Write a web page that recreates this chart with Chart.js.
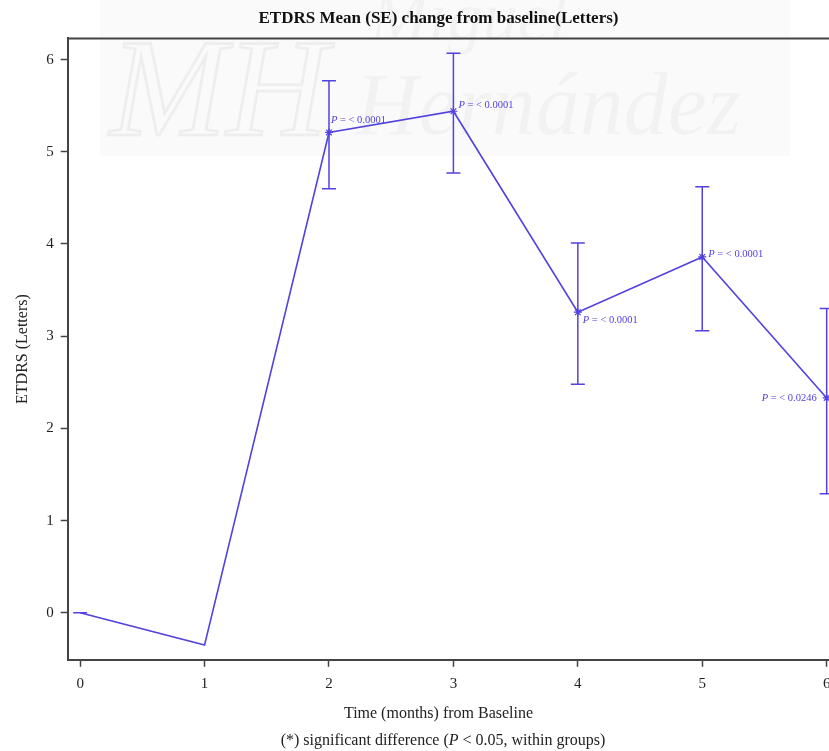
<!DOCTYPE html>
<html>
<head>
<meta charset="utf-8">
<script src="https://cdn.jsdelivr.net/npm/chart.js@4/dist/chart.umd.min.js"></script>
<style>
  html, body { margin: 0; padding: 0; background: #fff; overflow: hidden; }
  #wrap { width: 886px; height: 751px; }
</style>
</head>
<body>
<div id="wrap"><canvas id="etdrsChart" width="886" height="751"></canvas></div>
<script>
// Data
const months = [0, 1, 2, 3, 4, 5, 6];
const meanChange = [0, -0.35, 5.21, 5.44, 3.26, 3.86, 2.33];
const lowerSE = [0, null, 4.60, 4.77, 2.48, 3.06, 1.29];
const upperSE = [0, null, 5.77, 6.07, 4.01, 4.62, 3.30];
const pLabels = [null, null, '0.0001', '0.0001', '0.0001', '0.0001', '0.0246'];

const lineColor = 'rgb(82,66,224)';
const axisColor = '#444';
const serif = "'Liberation Serif', 'DejaVu Serif', serif";

// faint background watermark
const watermark = {
    id: 'watermark',
    beforeDraw(chart) {
        const ctx = chart.ctx;
        ctx.save();
        ctx.fillStyle = 'rgba(0,0,0,0.018)';
        ctx.fillRect(100, 0, 690, 156);
        ctx.fillStyle = 'rgba(0,0,0,0.035)';
        ctx.font = "italic 88px " + serif;
        ctx.textBaseline = 'alphabetic';
        ctx.fillText('Hernández', 355, 134);
        ctx.font = "italic 70px " + serif;
        ctx.fillText('Miguel', 370, 40);
        ctx.strokeStyle = 'rgba(0,0,0,0.05)';
        ctx.lineWidth = 3;
        ctx.font = "italic 140px " + serif;
        ctx.strokeText('MH', 110, 135);
        ctx.restore();
    }
};

// top frame line
const frame = {
    id: 'frame',
    afterDraw(chart) {
        const a = chart.chartArea;
        const ctx = chart.ctx;
        ctx.save();
        ctx.strokeStyle = axisColor;
        ctx.lineWidth = 2;
        ctx.beginPath();
        ctx.moveTo(a.left, a.top);
        ctx.lineTo(chart.width, a.top);
        ctx.stroke();
        ctx.restore();
    }
};

// SE error bars
const errorBars = {
    id: 'errorBars',
    afterDatasetsDraw(chart) {
        const x = chart.scales.x, y = chart.scales.y;
        const ctx = chart.ctx;
        ctx.save();
        ctx.strokeStyle = lineColor;
        ctx.lineWidth = 1.5;
        months.forEach((m, i) => {
            if (lowerSE[i] === null) return;
            const px = x.getPixelForValue(m);
            const lo = y.getPixelForValue(lowerSE[i]);
            const hi = y.getPixelForValue(upperSE[i]);
            ctx.beginPath();
            ctx.moveTo(px, lo); ctx.lineTo(px, hi);
            ctx.moveTo(px - 7, lo); ctx.lineTo(px + 7, lo);
            ctx.moveTo(px - 7, hi); ctx.lineTo(px + 7, hi);
            ctx.stroke();
        });
        ctx.restore();
    }
};

// p-value annotations
const labelOffsets = [null, null, [2, -12], [5, -6], [5, 8], [6, -3], [-65, 0]];
const pValues = {
    id: 'pValues',
    afterDatasetsDraw(chart) {
        const x = chart.scales.x, y = chart.scales.y;
        const ctx = chart.ctx;
        ctx.save();
        ctx.fillStyle = lineColor;
        ctx.textBaseline = 'middle';
        months.forEach((m, i) => {
            if (!pLabels[i]) return;
            let px = x.getPixelForValue(m) + labelOffsets[i][0];
            const py = y.getPixelForValue(meanChange[i]) + labelOffsets[i][1];
            ctx.font = "italic 10.5px " + serif;
            ctx.fillText('P', px, py);
            px += ctx.measureText('P').width;
            ctx.font = "10.5px " + serif;
            ctx.fillText(' = < ' + pLabels[i], px, py);
        });
        ctx.restore();
    }
};

// footnote with italic P
const footnote = {
    id: 'footnote',
    afterDraw(chart) {
        const ctx = chart.ctx;
        const parts = [['(*) significant difference (', ''], ['P', 'italic '], [' < 0.05, within groups)', '']];
        ctx.save();
        ctx.fillStyle = '#222';
        ctx.textBaseline = 'middle';
        let total = 0;
        parts.forEach(p => { ctx.font = p[1] + "16px " + serif; total += ctx.measureText(p[0]).width; });
        let px = 443 - total / 2;
        parts.forEach(p => {
            ctx.font = p[1] + "16px " + serif;
            ctx.fillText(p[0], px, 741);
            px += ctx.measureText(p[0]).width;
        });
        ctx.restore();
    }
};

const ctx = document.getElementById('etdrsChart').getContext('2d');
new Chart(ctx, {
    type: 'line',
    data: {
        datasets: [{
            label: 'ETDRS',
            data: months.map((m, i) => ({ x: m, y: meanChange[i] })),
            borderColor: lineColor,
            backgroundColor: lineColor,
            borderWidth: 1.6,
            tension: 0,
            fill: false,
            pointStyle: months.map((m, i) => pLabels[i] ? 'star' : 'line'),
            pointRadius: months.map((m, i) => pLabels[i] ? 4 : 0),
            pointBorderWidth: 1.2
        }]
    },
    options: {
        responsive: false,
        animation: false,
        layout: { padding: { left: 13, right: 22, top: 0, bottom: 24 } },
        plugins: {
            legend: { display: false },
            tooltip: { enabled: false },
            title: {
                display: true,
                text: 'ETDRS Mean (SE) change from baseline(Letters)',
                color: '#111',
                font: { family: serif, size: 17, weight: 'bold' },
                padding: { top: 8, bottom: 10 }
            },
            subtitle: {
                display: true,
                position: 'bottom',
                text: 'Time (months) from Baseline',
                color: '#222',
                font: { family: serif, size: 16 },
                padding: { top: 3, bottom: 4 }
            }
        },
        scales: {
            x: {
                type: 'linear',
                min: -0.1,
                max: 6.3,
                border: { display: true, color: axisColor, width: 2 },
                grid: { display: true, drawOnChartArea: false, drawTicks: true, tickLength: 7, color: axisColor, tickWidth: 1.5 },
                ticks: { stepSize: 1, includeBounds: false, color: '#222', padding: 8, font: { family: serif, size: 15 } }
            },
            y: {
                min: -0.51,
                max: 6.23,
                border: { display: true, color: axisColor, width: 2 },
                grid: { display: true, drawOnChartArea: false, drawTicks: true, tickLength: 7, color: axisColor, tickWidth: 1.5 },
                ticks: { stepSize: 1, includeBounds: false, color: '#222', padding: 7, font: { family: serif, size: 15 } },
                title: {
                    display: true,
                    text: 'ETDRS (Letters)',
                    color: '#222',
                    font: { family: serif, size: 16 },
                    padding: { top: 0, bottom: 7 }
                }
            }
        }
    },
    plugins: [watermark, frame, errorBars, pValues, footnote]
});
</script>
</body>
</html>
